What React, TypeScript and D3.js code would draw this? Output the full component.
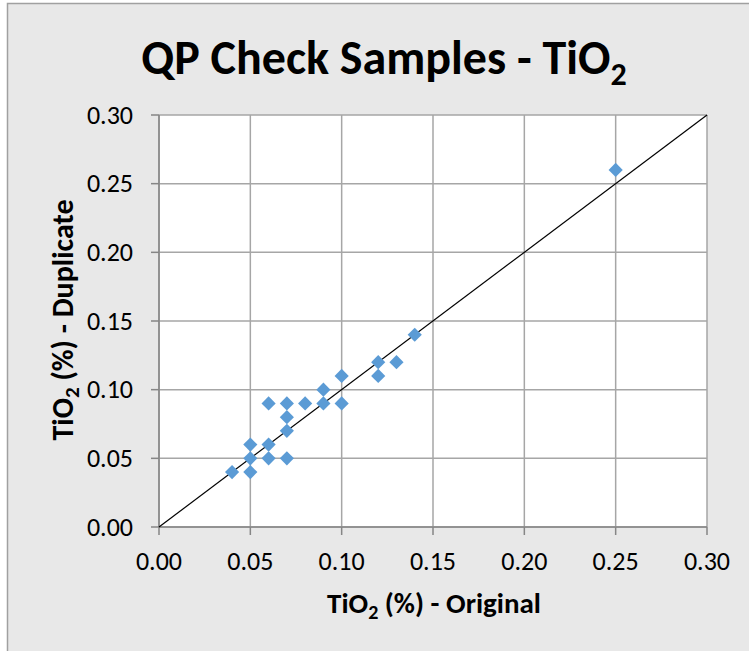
import React from "react";
import * as d3 from "d3";

const originalValues = [0.04, 0.05, 0.05, 0.05, 0.06, 0.06, 0.06, 0.07, 0.07, 0.07, 0.07, 0.08, 0.09, 0.09, 0.10, 0.10, 0.12, 0.12, 0.13, 0.14, 0.25];
const duplicateValues = [0.04, 0.04, 0.05, 0.06, 0.06, 0.05, 0.09, 0.09, 0.08, 0.07, 0.05, 0.09, 0.09, 0.10, 0.11, 0.09, 0.12, 0.11, 0.12, 0.14, 0.26];
const tickValues = [0, 0.05, 0.1, 0.15, 0.2, 0.25, 0.3];
const lineValues = [0, 0.3];

const W = 749;
const H = 651;
const FONT = "Carlito, 'Liberation Sans Narrow', 'Open Sans', sans-serif";

export default function App() {
  const x = d3.scaleLinear().domain([0, 0.3]).range([159, 707]);
  const y = d3.scaleLinear().domain([0, 0.3]).range([527, 115]);
  const fmt = d3.format(".2f");
  const diamond = d3.symbol().type(d3.symbolDiamond2).size(128);
  const line = d3.line<number>().x((d) => x(d)).y((d) => y(d));

  return (
    <svg width={W} height={H} style={{ position: "absolute", left: 0, top: 0 }}>
      <rect x={0} y={0} width={W} height={H} fill="#ffffff" />
      <rect x={7.5} y={3.5} width={W + 10} height={H + 10} fill="#e8e8e8" stroke="#a0a0a0" strokeWidth={1.5} />
      <rect x={x(0)} y={y(0.3)} width={x(0.3) - x(0)} height={y(0) - y(0.3)} fill="#ffffff" />
      {tickValues.map((t) => (
        <g key={"g" + t}>
          <line x1={x(t)} x2={x(t)} y1={y(0)} y2={y(0.3)} stroke="#a6a6a6" strokeWidth={1.5} />
          <line x1={x(0)} x2={x(0.3)} y1={y(t)} y2={y(t)} stroke="#a6a6a6" strokeWidth={1.5} />
        </g>
      ))}
      <line x1={x(0)} x2={x(0)} y1={y(0)} y2={y(0.3)} stroke="#868686" strokeWidth={1.5} />
      <line x1={x(0)} x2={x(0.3)} y1={y(0)} y2={y(0)} stroke="#868686" strokeWidth={1.5} />
      {tickValues.map((t) => (
        <g key={"t" + t}>
          <line x1={x(0) - 8} x2={x(0)} y1={y(t)} y2={y(t)} stroke="#868686" strokeWidth={1.5} />
          <line x1={x(t)} x2={x(t)} y1={y(0)} y2={y(0) + 8} stroke="#868686" strokeWidth={1.5} />
          <text x={133} y={y(t)} dy="0.33em" textAnchor="end" fontFamily={FONT} fontSize={26} fill="#000">
            {fmt(t)}
          </text>
          <text x={x(t)} y={570} textAnchor="middle" fontFamily={FONT} fontSize={26} fill="#000">
            {fmt(t)}
          </text>
        </g>
      ))}
      <path d={line(lineValues) || ""} stroke="#000" strokeWidth={1.2} fill="none" />
      {originalValues.map((v, i) => (
        <path
          key={"p" + i}
          d={diamond() || ""}
          transform={`translate(${x(v)},${y(duplicateValues[i])})`}
          fill="#5b9bd5"
        />
      ))}
      <text x={384} y={74} textAnchor="middle" fontFamily={FONT} fontWeight="bold" fontSize={48} fill="#000">
        QP Check Samples - TiO
        <tspan dy={11} fontSize={32}>2</tspan>
      </text>
      <text x={434} y={613} textAnchor="middle" fontFamily={FONT} fontWeight="bold" fontSize={29} fill="#000">
        TiO<tspan dy={6} fontSize={20}>2</tspan>
        <tspan dy={-6}> (%) - Original</tspan>
      </text>
      <text
        transform={`translate(73,320) rotate(-90)`}
        textAnchor="middle"
        fontFamily={FONT}
        fontWeight="bold"
        fontSize={30}
        fill="#000"
      >
        TiO<tspan dy={6} fontSize={21}>2</tspan>
        <tspan dy={-6}> (%) - Duplicate</tspan>
      </text>
    </svg>
  );
}
